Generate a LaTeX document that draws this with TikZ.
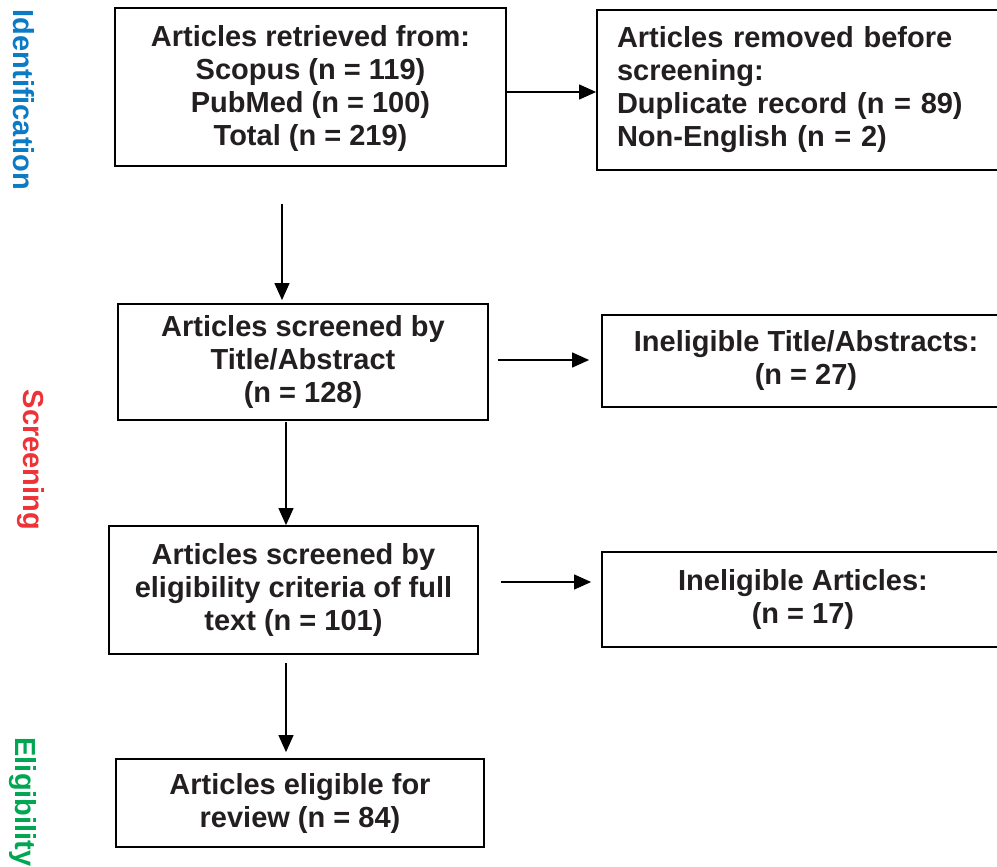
\documentclass[tikz,border=0pt]{standalone}
\usepackage{fontspec}
\setmainfont{Liberation Sans}
\usetikzlibrary{arrows.meta}
\definecolor{txt}{HTML}{231F20}
\definecolor{idblue}{HTML}{0A7BC4}
\definecolor{scred}{HTML}{EE3338}
\definecolor{elgreen}{HTML}{00A651}
\tikzset{
  box/.style={draw=black, line width=1.8pt, inner sep=0pt, align=center, text=txt,
    font=\fontsize{29}{33}\selectfont\bfseries},
  arr/.style={line width=1.2pt, -{Triangle[length=17pt 0,width=15pt 0]}},
  side/.style={rotate=-90, font=\fontsize{29}{33}\selectfont\bfseries, inner sep=0pt}
}
\begin{document}
\begin{tikzpicture}[x=1pt,y=-1pt]
\useasboundingbox (0,0) rectangle (997,867);
\clip (0,0) rectangle (997,867);
\fill[white] (0,0) rectangle (997,867);

\node[side, text=idblue] (lid) at (24,100) {Identification};
\node[side, text=scred] (lsc) at (31,460) {Screening};
\node[side, text=elgreen] (lel) at (23,802) {Eligibility};

\node[box, minimum width=391pt, minimum height=158pt] (b1) at (310.5,87)
  {\strut Articles retrieved from:\\Scopus (n = 119)\\PubMed (n = 100)\\Total (n = 219)};
\node[box, text width=371pt, inner xsep=20pt, align=left, minimum height=160pt] (b2) at (802.5,90)
  {Articles removed before\\screening:\\Duplicate record (n = 89)\\Non-English (n = 2)};
\node[box, minimum width=370pt, minimum height=116pt] (b3) at (303,362)
  {Articles screened by\\Title/Abstract\\(n = 128)};
\node[box, minimum width=408pt, minimum height=92pt] (b4) at (806,361)
  {Ineligible Title/Abstracts:\\(n = 27)};
\node[box, minimum width=369pt, minimum height=128pt] (b5) at (293.5,590)
  {Articles screened by\\eligibility criteria of full\\text (n = 101)};
\node[box, minimum width=402pt, minimum height=95pt] (b6) at (803,599.5)
  {Ineligible Articles:\\(n = 17)};
\node[box, minimum width=368pt, minimum height=88pt] (b7) at (300,803)
  {Articles eligible for\\review (n = 84)};

\draw[arr] (b1.east |- 0,92) -- (b2.west |- 0,92);
\draw[arr, shorten <=37pt, shorten >=3pt] (b1.south -| 282,0) -- (b3.north -| 282,0);
\draw[arr, shorten <=9pt, shorten >=12pt] (b3.east |- 0,360) -- (b4.west |- 0,360);
\draw[arr, shorten <=1pt] (b3.south -| 286,0) -- (b5.north -| 286,0);
\draw[arr, shorten <=22pt, shorten >=10pt] (b5.east |- 0,582) -- (b6.west |- 0,582);
\draw[arr, shorten <=8pt, shorten >=6pt] (b5.south -| 286,0) -- (b7.north -| 286,0);
\end{tikzpicture}
\end{document}
